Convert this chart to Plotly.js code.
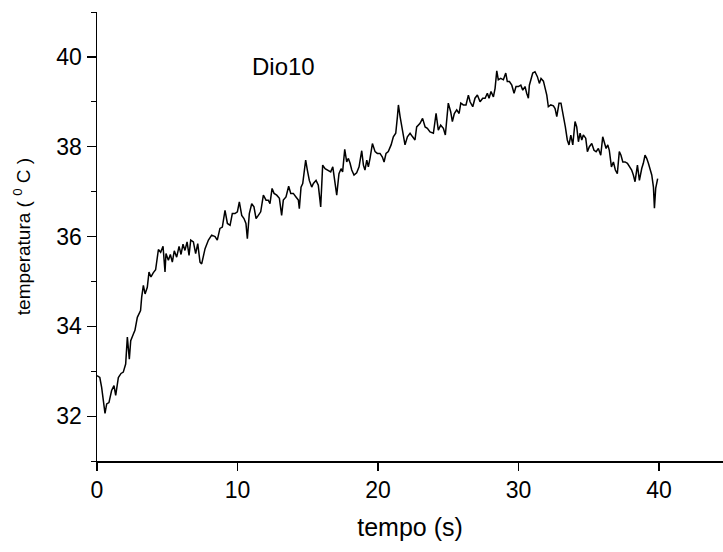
<!DOCTYPE html>
<html>
<head>
<meta charset="utf-8">
<script src="https://cdn.plot.ly/plotly-3.0.1.min.js"></script>
<style>html,body{margin:0;padding:0;background:#fff;}#chart{width:723px;height:552px;}</style>
</head>
<body>
<div id="chart"></div>
<script>
const tempo = [0, 0.2, 0.33, 0.57, 0.69, 0.85, 1.04, 1.21, 1.33, 1.52, 1.71, 1.87, 2.04, 2.16, 2.3, 2.4, 2.59, 2.7, 2.87, 3.01, 3.1, 3.18, 3.3, 3.42, 3.58, 3.7, 3.84, 4.0, 4.17, 4.37, 4.53, 4.7, 4.84, 4.91, 5.08, 5.22, 5.36, 5.5, 5.67, 5.84, 5.98, 6.12, 6.26, 6.41, 6.55, 6.67, 6.86, 7.02, 7.17, 7.33, 7.45,
  7.69, 7.93, 8.16, 8.4, 8.56, 8.75, 8.92, 9.11, 9.28, 9.47, 9.63, 9.82, 9.99, 10.13, 10.3, 10.46, 10.6, 10.7, 10.84, 11.01, 11.17, 11.32, 11.48, 11.65, 11.84, 12.03, 12.19, 12.31, 12.46, 12.6, 12.79, 12.98, 13.14, 13.26, 13.45, 13.64, 13.79, 13.97, 14.16, 14.33, 14.4, 14.52, 14.64, 14.78, 14.85, 14.97, 15.11, 15.28,
  15.4, 15.59, 15.75, 15.92, 16.06, 16.23, 16.46, 16.63, 16.78, 16.89, 17.06, 17.22, 17.37, 17.48, 17.63, 17.77, 17.89, 18.01, 18.13, 18.29, 18.48, 18.65, 18.84, 18.96, 19.07, 19.2, 19.31, 19.43, 19.6, 19.79, 19.95, 20.14, 20.31, 20.43, 20.57, 20.73, 20.93, 21.09, 21.26, 21.38, 21.45, 21.57, 21.69, 21.8, 21.92, 22.09, 22.28, 22.46, 22.63, 22.75, 22.99,
  23.17, 23.35, 23.51, 23.7, 23.94, 24.13, 24.29, 24.46, 24.65, 24.79, 25.0, 25.17, 25.29, 25.43, 25.6, 25.77, 25.89, 26.07, 26.26, 26.43, 26.55, 26.74, 26.9, 27.07, 27.26, 27.45, 27.62, 27.78, 27.9, 28.04, 28.21, 28.33, 28.45, 28.56, 28.73, 28.92, 29.09, 29.2, 29.35, 29.52, 29.68, 29.82, 29.99, 30.16, 30.3, 30.46, 30.58, 30.7, 30.77,
  31.01, 31.17, 31.34, 31.48, 31.6, 31.77, 31.89, 32.01, 32.12, 32.29, 32.48, 32.6, 32.72, 32.88, 33.02, 33.19, 33.33, 33.47, 33.59, 33.72, 33.86, 34.02, 34.14, 34.26, 34.38, 34.5, 34.61, 34.78, 34.9, 35.04, 35.21, 35.37, 35.52, 35.68, 35.85, 35.99, 36.09, 36.23, 36.35, 36.46, 36.61, 36.75, 36.89, 37.03, 37.17, 37.29, 37.42, 37.58, 37.75, 37.94, 38.05, 38.17, 38.29, 38.46, 38.6, 38.77, 38.88, 39.0, 39.12, 39.24, 39.36, 39.48, 39.6, 39.67, 39.76, 39.9];
const temperatura = [32.9, 32.86, 32.64, 32.06, 32.27, 32.3, 32.57, 32.68, 32.46, 32.86, 32.95, 32.98, 33.16, 33.76, 33.27, 33.68, 33.83, 33.91, 34.2, 34.31, 34.35, 34.65, 34.91, 34.72, 34.87, 35.21, 35.1, 35.19, 35.26, 35.71, 35.65, 35.78, 35.21, 35.62, 35.47, 35.6, 35.43, 35.68, 35.54, 35.78, 35.6, 35.83, 35.69, 35.88, 35.58, 35.92, 35.88, 35.62, 35.84, 35.43, 35.39,
  35.73, 35.92, 36.03, 36.0, 35.92, 36.18, 36.21, 36.58, 36.29, 36.25, 36.51, 36.51, 36.55, 36.77, 36.47, 36.4, 36.29, 35.95, 36.51, 36.73, 36.66, 36.4, 36.47, 36.55, 36.92, 36.81, 36.81, 36.73, 37.07, 36.96, 36.92, 36.85, 36.47, 36.81, 36.88, 37.12, 36.96, 36.96, 36.88, 36.81, 36.62, 37.1, 37.18, 37.48, 37.7, 37.48, 37.25, 37.1,
  37.18, 37.25, 37.14, 36.66, 37.59, 37.51, 37.48, 37.44, 37.55, 37.33, 36.92, 37.4, 37.51, 37.44, 37.94, 37.66, 37.74, 37.63, 37.48, 37.37, 37.42, 37.55, 37.91, 37.59, 37.48, 37.7, 37.55, 37.74, 38.07, 37.89, 37.85, 37.85, 37.77, 37.66, 37.85, 37.89, 38.04, 38.22, 38.3, 38.67, 38.93, 38.67, 38.48, 38.22, 38.04, 38.22, 38.3, 38.22, 38.15, 38.44, 38.52,
  38.63, 38.44, 38.41, 38.33, 38.3, 38.74, 38.37, 38.48, 38.41, 38.26, 38.97, 38.78, 38.56, 38.74, 38.82, 38.74, 38.97, 38.93, 38.93, 39.15, 39.0, 38.89, 39.08, 39.15, 39.0, 39.08, 39.08, 39.19, 39.08, 39.23, 39.11, 39.3, 39.69, 39.49, 39.52, 39.49, 39.64, 39.45, 39.45, 39.37, 39.19, 39.34, 39.34, 39.37, 39.26, 39.34, 39.19, 39.08, 39.37,
  39.64, 39.67, 39.56, 39.41, 39.52, 39.46, 39.3, 39.15, 38.89, 38.93, 38.91, 38.85, 38.67, 38.97, 38.97, 38.71, 38.44, 38.15, 38.04, 38.26, 38.04, 38.56, 38.44, 38.11, 38.3, 38.15, 38.26, 38.19, 37.89, 38.0, 38.07, 37.92, 37.89, 37.96, 37.81, 38.22, 38.11, 37.96, 38.04, 37.92, 37.55, 37.66, 37.48, 37.4, 37.89, 37.81, 37.66, 37.66, 37.63, 37.55, 37.48, 37.37, 37.22, 37.59, 37.25, 37.52, 37.63, 37.81, 37.74, 37.63, 37.48, 37.37, 37.1, 36.63, 37.07, 37.29];
const xTicks = [0, 10, 20, 30, 40];
const yTicks = [32, 34, 36, 38, 40];
const label = "Dio10";

const fontFam = '"Liberation Sans", Arial, Helvetica, sans-serif';
const data = [{
  x: tempo, y: temperatura, type: 'scatter', mode: 'lines',
  line: {color: '#000', width: 1.5}, hoverinfo: 'skip'
}];
const layout = {
  width: 723, height: 552,
  margin: {l: 97, r: 0, t: 12, b: 91},
  paper_bgcolor: '#fff', plot_bgcolor: '#fff',
  showlegend: false,
  font: {family: fontFam, color: '#000'},
  xaxis: {
    range: [0, 44.55], tickvals: xTicks, ticktext: xTicks.map(String),
    showline: true, linecolor: '#000', linewidth: 1.5, showgrid: false, zeroline: false,
    ticks: 'outside', ticklen: 8, tickwidth: 1.2, tickcolor: '#000',
    tickfont: {size: 23, family: fontFam, color: '#000'},
    title: {text: 'tempo (s)', font: {size: 25, family: fontFam, color: '#000'}, standoff: 16},
    automargin: false
  },
  yaxis: {
    range: [31, 41], tickvals: yTicks, ticktext: yTicks.map(String),
    showline: true, linecolor: '#000', linewidth: 1.5, showgrid: false, zeroline: false,
    ticks: 'outside', ticklen: 9, tickwidth: 1.2, tickcolor: '#000',
    minor: {dtick: 1, tick0: 31, ticks: 'outside', ticklen: 5, tickwidth: 1, tickcolor: '#000', showgrid: false},
    tickfont: {size: 23, family: fontFam, color: '#000'},
    title: {text: 'temperatura ( <sup>0</sup> C )', font: {size: 19, family: fontFam, color: '#000'}, standoff: 20},
    automargin: false
  },
  annotations: [{
    x: 13.3, y: 39.78, xref: 'x', yref: 'y', text: label, showarrow: false,
    font: {size: 24, family: fontFam, color: '#000'}
  }]
};
Plotly.newPlot('chart', data, layout, {displayModeBar: false, staticPlot: true});
</script>
</body>
</html>
